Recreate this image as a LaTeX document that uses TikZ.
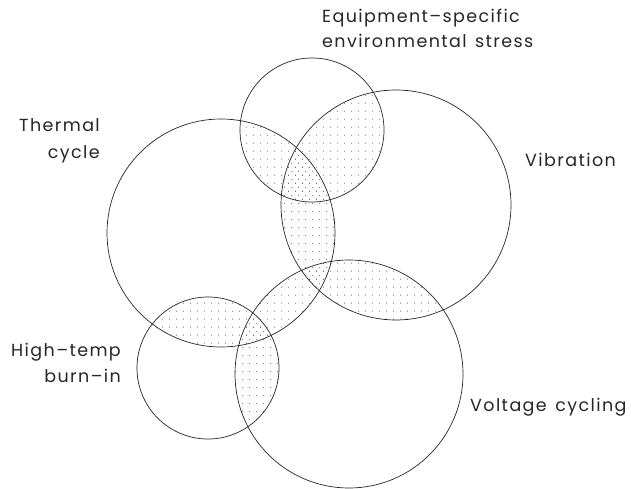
\documentclass[tikz,border=0pt]{standalone}
\usepackage{fontspec}
\setmainfont{Poppins}[LetterSpace=8,WordSpace=1.4]
\usepackage{tikz}
\usetikzlibrary{patterns}
% dot fills for the overlaps, two phases so triple overlaps look denser
\pgfdeclarepatternformonly{spotsA}{\pgfpoint{0pt}{0pt}}{\pgfpoint{7pt}{8pt}}{\pgfpoint{7pt}{8pt}}
  {\pgfpathcircle{\pgfpoint{1.75pt}{2pt}}{0.55pt}\pgfusepath{fill}}
\pgfdeclarepatternformonly{spotsB}{\pgfpoint{0pt}{0pt}}{\pgfpoint{7pt}{8pt}}{\pgfpoint{7pt}{8pt}}
  {\pgfpathcircle{\pgfpoint{5.25pt}{6pt}}{0.55pt}\pgfusepath{fill}}
\newcommand\EquipRing{(312,130) circle (72)}
\newcommand\ThermRing{(221,233) circle (114)}
\newcommand\VibRing{(396,205) circle (115)}
\newcommand\BurnRing{(208,368) circle (71)}
\newcommand\VoltRing{(349,374) circle (114)}
\tikzset{
  ring/.style={draw=black!85,line width=0.7pt},
  dotsA/.style={pattern=spotsA,pattern color=black!75},
  dotsB/.style={pattern=spotsB,pattern color=black!75},
  tag/.style={inner sep=0pt,font=\fontsize{17.5}{26}\selectfont,text=black!85}
}
\begin{document}
\begin{tikzpicture}[x=1pt,y=-1pt]
  \useasboundingbox (0,0) rectangle (631,489);
  % pairwise overlaps
  \begin{scope}\clip \EquipRing; \fill[dotsA] \ThermRing; \end{scope}
  \begin{scope}\clip \EquipRing; \fill[dotsA] \VibRing; \end{scope}
  \begin{scope}\clip \ThermRing; \fill[dotsB] \VibRing; \end{scope}
  \begin{scope}\clip \ThermRing; \fill[dotsA] \VoltRing; \end{scope}
  \begin{scope}\clip \VibRing; \fill[dotsA] \VoltRing; \end{scope}
  \begin{scope}\clip \BurnRing; \fill[dotsA] \ThermRing; \end{scope}
  \begin{scope}\clip \BurnRing; \fill[dotsB] \VoltRing; \end{scope}
  % the five sets
  \draw[ring] \EquipRing;
  \draw[ring] \ThermRing;
  \draw[ring] \VibRing;
  \draw[ring] \BurnRing;
  \draw[ring] \VoltRing;
  % labels
  \node[tag,anchor=north west,align=left,font=\fontsize{17.5}{25}\selectfont] (equip) at (322,9) {Equipment--specific\\environmental stress};
  \node[tag,anchor=north east,align=right,font=\fontsize{17.5}{27}\selectfont] (therm) at (100,118) {Thermal\\cycle};
  \node[tag,anchor=west] (vib) at (525,160) {Vibration};
  \node[tag,anchor=north east,align=right,font=\fontsize{17.5}{26}\selectfont] (burn) at (121,343) {High--temp\\burn--in};
  \node[tag,anchor=west] (volt) at (470,407) {Voltage cycling};
\end{tikzpicture}
\end{document}
